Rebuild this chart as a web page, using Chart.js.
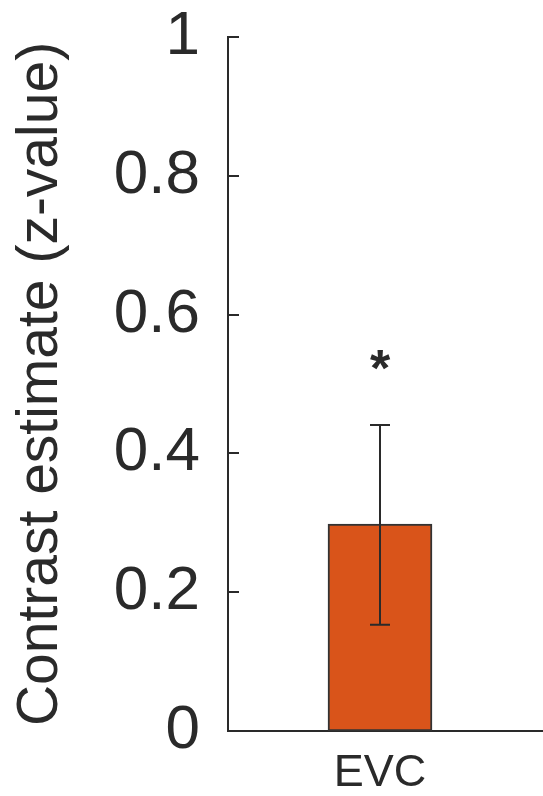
<!DOCTYPE html>
<html>
<head>
<meta charset="utf-8">
<script src="https://cdn.jsdelivr.net/npm/chart.js@4"></script>
<style>
  html, body { margin: 0; padding: 0; background: #fff; }
  #wrap { width: 543px; height: 796px; }
</style>
</head>
<body>
<div id="wrap"><canvas id="chart" width="543" height="796"></canvas></div>
<script>
const categories = ["EVC"];
const means = [0.298];
const errLow = [0.153];
const errHigh = [0.441];
const sigMarks = ["*"];
const sigLevel = [0.532];
const yLabels = ["0", "0.2", "0.4", "0.6", "0.8", "1"];

const ink = "#2a2a2a";
const font = "'Liberation Sans', Arial, Helvetica, sans-serif";

// inward tick marks, error bars, star
const extras = {
  id: "extras",
  afterDatasetsDraw(chart) {
    const { ctx, chartArea } = chart;
    const y = chart.scales.y;
    ctx.save();
    ctx.strokeStyle = ink;
    ctx.lineWidth = 2;

    y.ticks.forEach(t => {
      const py = Math.round(y.getPixelForValue(t.value));
      ctx.beginPath();
      ctx.moveTo(chartArea.left, py);
      ctx.lineTo(chartArea.left + 11, py);
      ctx.stroke();
    });

    // x axis runs to the edge
    ctx.beginPath();
    ctx.moveTo(chartArea.right, chartArea.bottom);
    ctx.lineTo(chart.width, chartArea.bottom);
    ctx.stroke();

    const meta = chart.getDatasetMeta(0);
    meta.data.forEach((bar, i) => {
      const x = bar.x;
      const yl = y.getPixelForValue(errLow[i]);
      const yh = y.getPixelForValue(errHigh[i]);
      ctx.beginPath();
      ctx.moveTo(x, yl);
      ctx.lineTo(x, yh);
      ctx.moveTo(x - 10, yl);
      ctx.lineTo(x + 10, yl);
      ctx.moveTo(x - 10, yh);
      ctx.lineTo(x + 10, yh);
      ctx.stroke();

      ctx.fillStyle = ink;
      ctx.font = "bold 52px " + font;
      ctx.textAlign = "center";
      ctx.textBaseline = "middle";
      ctx.fillText(sigMarks[i], x, y.getPixelForValue(sigLevel[i]) + 10);
    });
    ctx.restore();
  }
};

new Chart(document.getElementById("chart"), {
  type: "bar",
  data: {
    labels: categories,
    datasets: [
      {
        data: means,
        backgroundColor: "#d9541a",
        borderColor: "#333333",
        borderWidth: 2,
        borderSkipped: false,
        barThickness: 104
      }
    ]
  },
  options: {
    responsive: false,
    animation: false,
    events: [],
    layout: {
      padding: { top: 37, right: 11, left: 0, bottom: 0 }
    },
    plugins: {
      legend: { display: false },
      tooltip: { enabled: false }
    },
    scales: {
      x: {
        grid: { display: false, drawTicks: false },
        border: { display: true, color: ink, width: 2 },
        ticks: {
          color: ink,
          padding: 16,
          font: { family: font, size: 45 }
        },
        afterFit(scale) {
          scale.height = 65;
          scale.paddingLeft = 0;
          scale.paddingRight = 0;
        }
      },
      y: {
        min: 0,
        max: 1,
        grid: { display: false, drawTicks: false },
        border: { display: true, color: ink, width: 2 },
        ticks: {
          stepSize: 0.1,
          color: ink,
          padding: 28,
          font: { family: font, size: 62 },
          callback: (v) => {
            const k = Math.round(v * 10);
            return k % 2 === 0 ? yLabels[k / 2] : "";
          }
        },
        title: {
          display: true,
          text: "Contrast estimate (z-value)",
          color: ink,
          font: { family: font, size: 57 },
          padding: { top: 7, bottom: 0 }
        },
        afterFit(scale) {
          scale.width = 228;
          scale.paddingTop = 0;
          scale.paddingBottom = 0;
        }
      }
    }
  },
  plugins: [extras]
});
</script>
</body>
</html>
